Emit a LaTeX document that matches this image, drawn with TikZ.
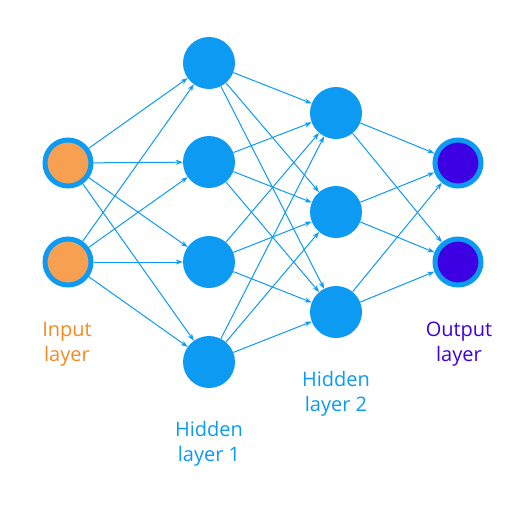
\documentclass[tikz,border=0pt]{standalone}
\usepackage{fontspec}
\setmainfont{Open Sans}
\usetikzlibrary{arrows.meta}
\definecolor{nblue}{HTML}{0C9AF2}
\definecolor{norange}{HTML}{F7A052}
\definecolor{torange}{HTML}{F68A22}
\definecolor{npurple}{HTML}{3D00E3}
\begin{document}
\begin{tikzpicture}[x=1pt,y=-1pt,
  inputnode/.style={circle,draw=nblue,line width=5pt,fill=norange,minimum size=46pt,inner sep=0pt},
  hidnode/.style={circle,fill=nblue,minimum size=52pt,inner sep=0pt},
  outnode/.style={circle,draw=nblue,line width=5pt,fill=npurple,minimum size=46pt,inner sep=0pt},
  edge/.style={draw=nblue,line width=1pt,-{Stealth[length=7pt,width=5pt]}},
  lbl/.style={font=\fontsize{20}{25}\selectfont,align=center}]
\useasboundingbox (0,0) rectangle (512,512);
\node[inputnode] (i1) at (68,163) {};
\node[inputnode] (i2) at (68,262) {};
\node[hidnode] (h1) at (209,63) {};
\node[hidnode] (h2) at (209,162) {};
\node[hidnode] (h3) at (209,262) {};
\node[hidnode] (h4) at (209,362) {};
\node[hidnode] (g1) at (336,113) {};
\node[hidnode] (g2) at (336,212) {};
\node[hidnode] (g3) at (336,312) {};
\node[outnode] (o1) at (458,163) {};
\node[outnode] (o2) at (458,262) {};
\foreach \a in {i1,i2}
  \foreach \b in {h1,h2,h3,h4}
    \path[edge] (\a) -- (\b);
\foreach \a in {h1,h2,h3,h4}
  \foreach \b in {g1,g2,g3}
    \path[edge] (\a) -- (\b);
\foreach \a in {g1,g2,g3}
  \foreach \b in {o1,o2}
    \path[edge] (\a) -- (\b);
\node[lbl,text=torange] (li) at (67,344) {Input\\layer};
\node[lbl,text=nblue] (lh1) at (209,444) {Hidden\\layer 1};
\node[lbl,text=nblue] (lh2) at (336,394) {Hidden\\layer 2};
\node[lbl,text=npurple] (lo) at (459,344) {Output\\layer};
\end{tikzpicture}
\end{document}
